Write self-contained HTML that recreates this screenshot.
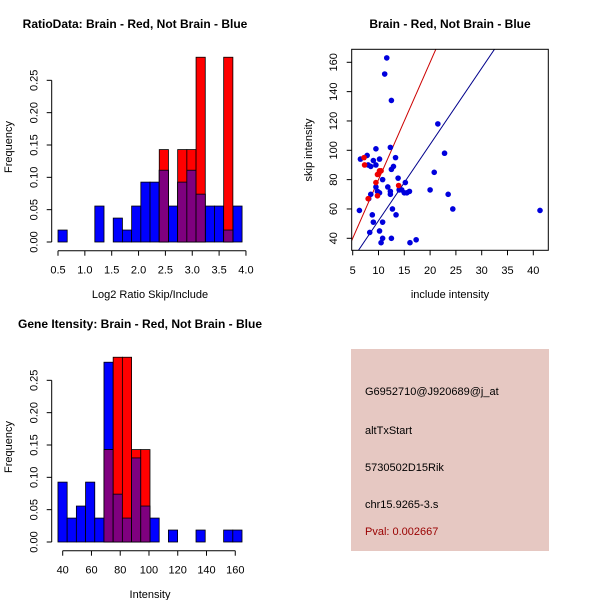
<!DOCTYPE html>
<html><head><meta charset="utf-8"><style>
html,body{margin:0;padding:0;background:#fff}
svg{display:block;font-family:"Liberation Sans",sans-serif}
</style></head><body>
<svg id="c" width="600" height="600" viewBox="0 0 600 600"></svg>
<script>
// ---- data: ratio histogram ----
const ratioStart = 0.5, ratioWidth = 0.1714;
const ratioBlue = [0.0185,0,0,0,0.0556,0,0.037,0.0185,0.0556,0.0926,0.0926,0.111,0.0556,0.0926,0.111,0.074,0.0556,0.0556,0.0185,0.0556];
const ratioRed  = [0,0,0,0,0,0,0,0,0,0,0,0.1429,0,0.1429,0.1429,0.2857,0,0,0.2857,0];
const ratioXTicks = [0.5,1.0,1.5,2.0,2.5,3.0,3.5,4.0];
const freqTicks = [0.00,0.05,0.10,0.15,0.20,0.25];
// ---- data: intensity histogram ----
const intStart = 36.7, intWidth = 6.4;
const intBlue = [0.0926,0.037,0.0556,0.0926,0.037,0.278,0.074,0.037,0.13,0.0556,0.037,0,0.0185,0,0,0.0185,0,0,0.0185,0.0185];
const intRed  = [0,0,0,0,0,0.1429,0.2857,0.2857,0.1429,0.1429,0,0,0,0,0,0,0,0,0,0];
const intXTicks = [40,60,80,100,120,140,160];
// ---- data: scatter ----
const blueX = [6.3,6.5,7.8,8,8.5,9,9.5,9.5,10.2,8.1,8.5,8.3,8.8,9,10.2,10.5,10.8,10.8,10.8,9.5,9.8,10.2,11.2,11.6,12.5,12.3,12.5,12.9,13.3,11.8,12.3,12.3,12.7,13.4,12.5,13.8,14,14.5,15.2,15,15.5,16,16.1,17.3,20,20.8,21.5,22.8,23.5,24.4,41.3];
const blueY = [59,94,96.5,90,89,93,101,90,94,67,70,44,56,51,45,37,40,51,80,75,72,71,152,163,134,102,87,89,95,75,72,70,60,56,40,81,73,73,78,71,71,72,37,39,73,85,118,98,70,60,59];
const redX = [7.2,7.3,8,9.5,9.8,10.2,10.5,9.8,10,13.9];
const redY = [95,90,67,78,83.5,86,86,69,84,76];
const redSlope = 8.0, blueSlope = 5.2;
const scXTicks = [5,10,15,20,25,30,35,40];
const scYTicks = [40,60,80,100,120,140,160];

const svg = document.getElementById('c');
const NS = 'http://www.w3.org/2000/svg';
function mk(tag, attrs, parent){const e=document.createElementNS(NS,tag);for(const k in attrs)e.setAttribute(k,attrs[k]);(parent||svg).appendChild(e);return e;}
function txt(s, attrs, parent){const e=mk('text',attrs,parent);e.textContent=s;return e;}

function hist(g, start, width, blue, red, xs, ys){
  blue.forEach((v,i)=>{ if(v<=0) return;
    const r=mk('rect',{x:xs(start+i*width),y:ys(v),width:xs(start+(i+1)*width)-xs(start+i*width),height:ys(0)-ys(v),fill:'#0000ff',stroke:'#000','stroke-width':0.8},g);
      });
  red.forEach((v,i)=>{ if(v<=0) return;
    const r=mk('rect',{x:xs(start+i*width),y:ys(v),width:xs(start+(i+1)*width)-xs(start+i*width),height:ys(0)-ys(v),fill:'#ff0000',stroke:'#000','stroke-width':0.8},g);
     
    const m=Math.min(v,blue[i]); if(m>0){
      const p=mk('rect',{x:xs(start+i*width),y:ys(m),width:xs(start+(i+1)*width)-xs(start+i*width),height:ys(0)-ys(m),fill:'#7f007f',stroke:'#000','stroke-width':0.8},g);
        } });
}
function yAxis(g, x, ticks, ys, fmt){
  mk('line',{x1:x,x2:x,y1:ys(ticks[0]),y2:ys(ticks[ticks.length-1]),stroke:'#000'},g);
  ticks.forEach(t=>{ mk('line',{x1:x,x2:x-5,y1:ys(t),y2:ys(t),stroke:'#000'},g);
    const l=txt(fmt(t),{x:x-14,y:ys(t),'font-size':11,'text-anchor':'middle',transform:`rotate(-90 ${x-14} ${ys(t)})`},g);
      });
}
function xAxis(g, y, ticks, xs, fmt){
  mk('line',{x1:xs(ticks[0]),x2:xs(ticks[ticks.length-1]),y1:y,y2:y,stroke:'#000'},g);
  ticks.forEach(t=>{ mk('line',{x1:xs(t),x2:xs(t),y1:y,y2:y+5,stroke:'#000'},g);
    const l=txt(fmt(t),{x:xs(t),y:y+23,'font-size':11,'text-anchor':'middle'},g);
      });
}

// Panel 1
const g1=mk('g',{});  
const xs1=v=>58+(v-0.5)*53.7, ys1=v=>242-v*646.7;
txt('RatioData: Brain - Red, Not Brain - Blue',{x:135,y:28,'font-size':12,'font-weight':'bold','text-anchor':'middle'},g1);
hist(g1,ratioStart,ratioWidth,ratioBlue,ratioRed,xs1,ys1);
yAxis(g1,51.7,freqTicks,ys1,t=>t.toFixed(2));
xAxis(g1,250.7,ratioXTicks,xs1,t=>t.toFixed(1));
txt('Log2 Ratio Skip/Include',{x:150,y:298,'font-size':11,'text-anchor':'middle'},g1);
txt('Frequency',{x:12,y:147,'font-size':11,'text-anchor':'middle',transform:'rotate(-90 12 147)'},g1);

// Panel 2 scatter
const g2=mk('g',{});  
const xs2=v=>352.7+(v-5)*5.16, ys2=v=>238.3-(v-40)*1.4667;
txt('Brain - Red, Not Brain - Blue',{x:450,y:28,'font-size':12,'font-weight':'bold','text-anchor':'middle'},g2);
const clip=mk('clipPath',{id:'sc'},g2); mk('rect',{x:351.7,y:49.3,width:196.6,height:201},clip);
const pg=mk('g',{'clip-path':'url(#sc)'},g2);
[[redSlope,'#cc0000'],[blueSlope,'#00008b']].forEach(([s,c])=>{
  const ln=mk('line',{x1:xs2(0),y1:ys2(0),x2:xs2(50),y2:ys2(50*s),stroke:c,'stroke-width':1},pg);
    });
blueX.forEach((x,i)=>{ const c=mk('circle',{cx:xs2(x),cy:ys2(blueY[i]),r:2.8,fill:'#0000dd'},pg);
    });
redX.forEach((x,i)=>{ const c=mk('circle',{cx:xs2(x),cy:ys2(redY[i]),r:2.8,fill:'#ee0000'},pg);
    });
mk('rect',{x:351.7,y:49.3,width:196.6,height:201,fill:'none',stroke:'#000'},g2);
scYTicks.forEach(t=>{ mk('line',{x1:351.7,x2:346.7,y1:ys2(t),y2:ys2(t),stroke:'#000'},g2);
  const l=txt(String(t),{x:337,y:ys2(t),'font-size':11,'text-anchor':'middle',transform:`rotate(-90 337 ${ys2(t)})`},g2);
    });
scXTicks.forEach(t=>{ mk('line',{x1:xs2(t),x2:xs2(t),y1:250.3,y2:255.3,stroke:'#000'},g2);
  const l=txt(String(t),{x:xs2(t),y:274,'font-size':11,'text-anchor':'middle'},g2);
    });
txt('include intensity',{x:450,y:298,'font-size':11,'text-anchor':'middle'},g2);
txt('skip intensity',{x:312,y:150,'font-size':11,'text-anchor':'middle',transform:'rotate(-90 312 150)'},g2);

// Panel 3
const g3=mk('g',{});  
const xs3=v=>62.7+(v-40)*1.438, ys3=v=>542-v*646.7;
txt('Gene Itensity: Brain - Red, Not Brain - Blue',{x:140,y:328,'font-size':12,'font-weight':'bold','text-anchor':'middle'},g3);
hist(g3,intStart,intWidth,intBlue,intRed,xs3,ys3);
yAxis(g3,51.7,freqTicks,ys3,t=>t.toFixed(2));
xAxis(g3,550.7,intXTicks,xs3,t=>String(t));
txt('Intensity',{x:150,y:598,'font-size':11,'text-anchor':'middle'},g3);
txt('Frequency',{x:12,y:447,'font-size':11,'text-anchor':'middle',transform:'rotate(-90 12 447)'},g3);
</script>
<svg width="600" height="600" style="position:absolute;left:0;top:0">
<rect x="351" y="349" width="198" height="202" fill="#e6c8c2"/>
<g font-family="Liberation Sans, sans-serif" font-size="11">
<text x="365" y="395">G6952710@J920689@j_at</text>
<text x="365" y="434">altTxStart</text>
<text x="365" y="471">5730502D15Rik</text>
<text x="365" y="508">chr15.9265-3.s</text>
<text x="365" y="535" fill="#990000">Pval: 0.002667</text>
</g></svg>
</body></html>
